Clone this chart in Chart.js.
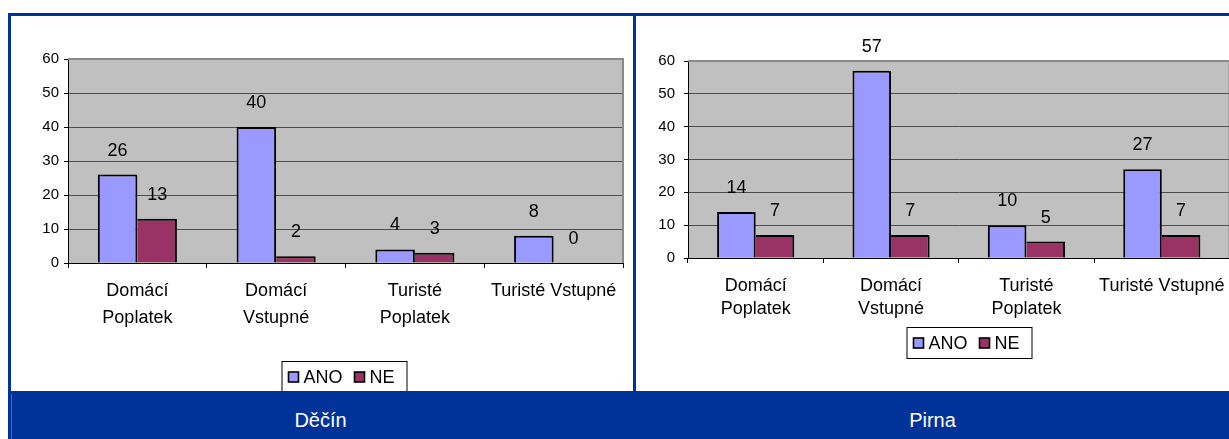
<!DOCTYPE html>
<html>
<head>
<meta charset="utf-8">
<script src="https://cdn.jsdelivr.net/npm/chart.js@4.4.0/dist/chart.umd.min.js"></script>
<style>
  html, body { margin: 0; padding: 0; background: #fff; }
  body { width: 1229px; height: 439px; overflow: hidden; position: relative;
         font-family: Arial, "Liberation Sans", sans-serif; }
  .blue { position: absolute; background: #003399; }
  .box { position: absolute; }
  .footLabel { position: absolute; top: 391px; height: 48px; line-height: 58px;
               color: #fff; font-size: 20px; text-align: center; }
</style>
</head>
<body>
  <!-- frame -->
  <div class="blue" style="left:8px;top:13px;width:1221px;height:3px"></div>
  <div class="blue" style="left:8px;top:13px;width:3px;height:378px"></div>
  <div class="blue" style="left:633px;top:13px;width:3px;height:378px"></div>

  <div class="box" style="left:11px;top:16px"><canvas id="decin" width="622" height="375"></canvas></div>
  <div class="box" style="left:636px;top:16px"><canvas id="pirna" width="600" height="375"></canvas></div>

  <!-- footer -->
  <div class="blue" style="left:8px;top:391px;width:1221px;height:48px"></div>
  <div style="position:absolute;left:11px;top:394px;width:1px;height:45px;background:#4a68c0"></div>
  <div class="footLabel" id="footLeft" style="left:8px;width:625px"></div>
  <div class="footLabel" id="footRight" style="left:636px;width:593px"></div>

<script>
// ---- data ----
const categories = [["Domácí", "Poplatek"], ["Domácí", "Vstupné"], ["Turisté", "Poplatek"], "Turisté Vstupné"];
const seriesNames = ["ANO", "NE"];
const seriesColors = ["#9999FF", "#993366"];
const decinAno = [26, 40, 4, 8];
const decinNe = [13, 2, 3, 0];
const pirnaAno = [14, 57, 10, 27];
const pirnaNe = [7, 7, 5, 7];
const yMin = 0;
const yMax = 60;
const yStep = 10;
const panelTitles = ["Děčín", "Pirna"];

const FONT = 'Arial, "Liberation Sans", sans-serif';

document.getElementById("footLeft").textContent = panelTitles[0];
document.getElementById("footRight").textContent = panelTitles[1];

// grey plot background + lighter top/right frame
const plotBg = {
  id: "plotBg",
  beforeDraw(chart) {
    const a = chart.chartArea, ctx = chart.ctx;
    ctx.save();
    ctx.fillStyle = "#C0C0C0";
    ctx.fillRect(a.left, a.top, a.right - a.left, a.bottom - a.top);
    ctx.restore();
  },
  afterDraw(chart) {
    const a = chart.chartArea, ctx = chart.ctx;
    ctx.save();
    ctx.strokeStyle = "#8a8a8a";
    ctx.lineWidth = 2;
    ctx.beginPath();
    ctx.moveTo(a.left, a.top);
    ctx.lineTo(a.right, a.top);
    ctx.lineTo(a.right, a.bottom);
    ctx.stroke();
    ctx.restore();
  }
};

// value labels above the bars
const valueLabels = {
  id: "valueLabels",
  afterDatasetsDraw(chart) {
    const ctx = chart.ctx;
    ctx.save();
    ctx.font = "18px " + FONT;
    ctx.fillStyle = "#000";
    ctx.textAlign = "center";
    ctx.textBaseline = "middle";
    chart.data.datasets.forEach((ds, i) => {
      chart.getDatasetMeta(i).data.forEach((bar, j) => {
        ctx.fillText(String(ds.data[j]), bar.x, bar.y - 24);
      });
    });
    ctx.restore();
  }
};

// framed legend like the original
const boxLegend = {
  id: "boxLegend",
  afterDraw(chart, args, opts) {
    const ctx = chart.ctx;
    ctx.save();
    ctx.fillStyle = "#fff";
    ctx.fillRect(opts.x, opts.y, opts.w, opts.h);
    ctx.strokeStyle = "#000";
    ctx.lineWidth = 1;
    ctx.strokeRect(opts.x + 0.5, opts.y + 0.5, opts.w, opts.h);
    ctx.font = "18px " + FONT;
    ctx.textBaseline = "middle";
    let x = opts.x + 7;
    const cy = opts.y + 16;
    chart.data.datasets.forEach((ds) => {
      ctx.fillStyle = ds.backgroundColor;
      ctx.fillRect(x, cy - 5, 10, 10);
      ctx.lineWidth = 1.6;
      ctx.strokeStyle = "#000";
      ctx.strokeRect(x, cy - 5, 10, 10);
      ctx.fillStyle = "#000";
      ctx.fillText(ds.label, x + 15, cy + 1);
      x += 15 + ctx.measureText(ds.label).width + 12;
    });
    ctx.restore();
  }
};

function makeChart(id, ano, ne, cfg) {
  const values = [ano, ne];
  new Chart(document.getElementById(id), {
    type: "bar",
    data: {
      labels: categories,
      datasets: seriesNames.map((name, i) => ({
        label: name,
        data: values[i],
        backgroundColor: seriesColors[i],
        borderColor: "#000",
        borderWidth: i === 0 ? { top: 2, left: 2, right: 2, bottom: 0 } : { top: 2, left: 0, right: 2, bottom: 0 },
        borderSkipped: false,
        categoryPercentage: 0.57,
        barPercentage: 1.0
      }))
    },
    options: {
      responsive: false,
      animation: false,
      layout: { padding: cfg.padding },
      plugins: {
        legend: { display: false },
        tooltip: { enabled: false },
        boxLegend: cfg.legend
      },
      scales: {
        x: {
          grid: { drawOnChartArea: false, drawTicks: true, tickLength: 5, tickColor: "#000" },
          border: { color: "#000", width: 1 },
          ticks: {
            color: "#000",
            padding: cfg.xPad,
            maxRotation: 0,
            autoSkip: false,
            font: { family: FONT, size: 18, lineHeight: cfg.xLine }
          },
          afterFit(s) { s.height = cfg.xHeight; }
        },
        y: {
          min: yMin,
          max: yMax,
          grid: { color: "#4d4d4d", lineWidth: 1, tickLength: 4, tickColor: "#000" },
          border: { color: "#000", width: 1 },
          ticks: {
            stepSize: yStep,
            color: "#000",
            padding: cfg.yPad,
            font: { family: FONT, size: 15 }
          },
          afterFit(s) { s.width = cfg.yWidth; }
        }
      }
    },
    plugins: [plotBg, valueLabels, boxLegend]
  });
}

makeChart("decin", decinAno, decinNe, {
  padding: { left: 0, top: 43, right: 10, bottom: 0 },
  yWidth: 57, xHeight: 128, xPad: 10, xLine: 1.48, yPad: 5,
  legend: { x: 270.5, y: 345, w: 125, h: 31 }
});

makeChart("pirna", pirnaAno, pirnaNe, {
  padding: { left: 0, top: 45, right: 4, bottom: 0 },
  yWidth: 52, xHeight: 133, xPad: 11, xLine: 1.3, yPad: 9,
  legend: { x: 270.5, y: 311, w: 125, h: 31 }
});
</script>
</body>
</html>
